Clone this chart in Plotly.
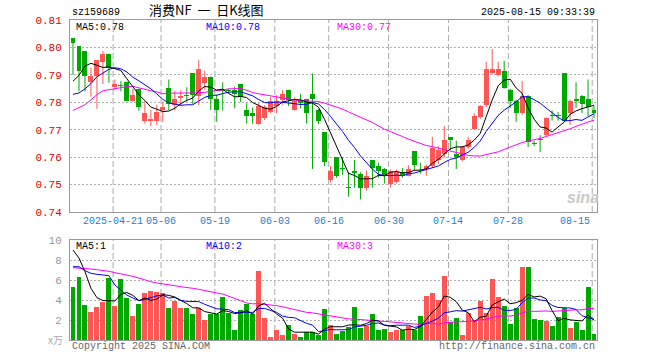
import pandas as pd
import plotly.graph_objects as go

# ---------------- data ----------------
holidays = ["2025-05-01", "2025-05-02", "2025-05-05", "2025-06-02"]
dates = [d.strftime("%Y-%m-%d") for d in pd.bdate_range("2025-04-10", "2025-08-15")
         if d.strftime("%Y-%m-%d") not in holidays]

opens = [0.8034, 0.8004, 0.7987, 0.7873, 0.7895, 0.7947, 0.7977, 0.7856, 0.7862, 0.7873,
         0.7803, 0.7850, 0.7732, 0.7732, 0.7732, 0.7772, 0.7852, 0.7791, 0.7814, 0.7825,
         0.7905, 0.7824, 0.7871, 0.7894, 0.7813, 0.7846, 0.7843, 0.7844, 0.7865, 0.7772,
         0.7760, 0.7721, 0.7742, 0.7766, 0.7787, 0.7807, 0.7844, 0.7772, 0.7803, 0.7813,
         0.7831, 0.7772, 0.7692, 0.7518, 0.7600, 0.7558, 0.7490, 0.7551, 0.7539, 0.7489,
         0.7590, 0.7569, 0.7557, 0.7502, 0.7508, 0.7545, 0.7532, 0.7621, 0.7558, 0.7557,
         0.7567, 0.7590, 0.7613, 0.7672, 0.7613, 0.7590, 0.7637, 0.7701, 0.7748, 0.7791,
         0.7908, 0.7898, 0.7914, 0.7844, 0.7803, 0.7762, 0.7824, 0.7650, 0.7663, 0.7680,
         0.7752, 0.7752, 0.7905, 0.7762, 0.7813, 0.7824, 0.7813, 0.7772]
highs = [0.8034, 0.8004, 0.7987, 0.7926, 0.7953, 0.7987, 0.7977, 0.7883, 0.7877, 0.7876,
         0.7849, 0.7850, 0.7805, 0.7772, 0.7791, 0.7803, 0.7883, 0.7842, 0.7844, 0.7855,
         0.7905, 0.7953, 0.7915, 0.7894, 0.7828, 0.7873, 0.7850, 0.7857, 0.7865, 0.7797,
         0.7781, 0.7797, 0.7790, 0.7820, 0.7826, 0.7844, 0.7846, 0.7818, 0.7831, 0.7813,
         0.7905, 0.7775, 0.7692, 0.7567, 0.7600, 0.7600, 0.7545, 0.7590, 0.7545, 0.7551,
         0.7590, 0.7580, 0.7560, 0.7555, 0.7555, 0.7560, 0.7570, 0.7621, 0.7580, 0.7572,
         0.7674, 0.7640, 0.7713, 0.7672, 0.7660, 0.7640, 0.7674, 0.7760, 0.7790, 0.7947,
         0.7994, 0.7947, 0.7951, 0.7850, 0.7810, 0.7877, 0.7826, 0.7660, 0.7680, 0.7745,
         0.7770, 0.7765, 0.7905, 0.7810, 0.7873, 0.7826, 0.7883, 0.7787]
lows = [0.7900, 0.7840, 0.7840, 0.7821, 0.7776, 0.7867, 0.7871, 0.7844, 0.7840, 0.7803,
        0.7803, 0.7769, 0.7723, 0.7713, 0.7717, 0.7729, 0.7772, 0.7770, 0.7787, 0.7803,
        0.7793, 0.7790, 0.7846, 0.7772, 0.7729, 0.7770, 0.7833, 0.7778, 0.7800, 0.7723,
        0.7722, 0.7718, 0.7735, 0.7760, 0.7760, 0.7791, 0.7787, 0.7770, 0.7778, 0.7723,
        0.7557, 0.7721, 0.7567, 0.7508, 0.7525, 0.7536, 0.7456, 0.7489, 0.7446, 0.7478,
        0.7489, 0.7525, 0.7504, 0.7489, 0.7504, 0.7525, 0.7530, 0.7551, 0.7540, 0.7532,
        0.7560, 0.7575, 0.7600, 0.7625, 0.7557, 0.7585, 0.7630, 0.7700, 0.7740, 0.7782,
        0.7901, 0.7895, 0.7850, 0.7779, 0.7729, 0.7755, 0.7637, 0.7640, 0.7618, 0.7675,
        0.7733, 0.7733, 0.7730, 0.7717, 0.7779, 0.7761, 0.7750, 0.7742]
closes = [0.8016, 0.7914, 0.7897, 0.7895, 0.7953, 0.7975, 0.7926, 0.7865, 0.7860, 0.7803,
          0.7825, 0.7784, 0.7761, 0.7740, 0.7764, 0.7782, 0.7793, 0.7812, 0.7824, 0.7824,
          0.7825, 0.7922, 0.7893, 0.7811, 0.7772, 0.7842, 0.7842, 0.7831, 0.7820, 0.7751,
          0.7751, 0.7787, 0.7782, 0.7803, 0.7803, 0.7831, 0.7809, 0.7803, 0.7799, 0.7762,
          0.7813, 0.7733, 0.7582, 0.7551, 0.7530, 0.7556, 0.7488, 0.7541, 0.7489, 0.7530,
          0.7559, 0.7551, 0.7532, 0.7551, 0.7547, 0.7533, 0.7557, 0.7572, 0.7555, 0.7569,
          0.7634, 0.7627, 0.7662, 0.7662, 0.7600, 0.7636, 0.7662, 0.7750, 0.7785, 0.7922,
          0.7922, 0.7922, 0.7852, 0.7803, 0.7762, 0.7824, 0.7655, 0.7648, 0.7661, 0.7742,
          0.7750, 0.7750, 0.7733, 0.7806, 0.7803, 0.7793, 0.7782, 0.7762]
volumes = [5.27, 6.3, 3.5, 2.8, 3.3, 3.83, 6.2, 3.4, 6.1, 4.2,
           2.4, 3.6, 4.7, 4.9, 4.8, 4.7, 3.2, 3.9, 3.2, 3.2,
           2.6, 3.2, 2.0, 2.6, 2.6, 4.3, 2.73, 1.0, 3.0, 3.63,
           2.6, 6.9, 2.2, 0.3, 1.0, 0.5, 1.5, 0.6, 0.3, 0.77,
           0.77, 0.5, 3.1, 1.5, 0.6, 0.9, 1.33, 3.3, 1.23, 1.43,
           2.6, 1.0, 1.1, 0.83, 1.0, 1.0, 1.4, 1.0, 2.4, 4.4,
           4.73, 4.0, 6.43, 1.8, 2.2, 0.5, 2.73, 2.0, 3.93, 2.73,
           6.1, 4.33, 3.4, 1.6, 3.23, 7.3, 7.3, 2.1, 2.0, 1.93,
           1.4, 2.27, 3.23, 1.23, 1.8, 1.0, 5.3, 0.6]

# moving-average values for the first bars (window not yet full)
ma5_head = [0.7877, 0.7898, 0.7932, 0.7942]
ma10_head = [0.7829, 0.7834, 0.7849, 0.7868, 0.7893, 0.7908, 0.7920, 0.7926, 0.7922]
ma30_head = [0.7770, 0.7780, 0.7791, 0.7809, 0.7828, 0.7842, 0.7846, 0.7851, 0.7855, 0.7857,
             0.7858, 0.7852, 0.7846, 0.7842, 0.7838, 0.7831, 0.7833, 0.7834, 0.7834, 0.7834,
             0.7834, 0.7835, 0.7836, 0.7840, 0.7842, 0.7845, 0.7849, 0.7850, 0.7850]
vma5_head = [9.0, 8.2, 6.83, 5.17]
vma10_head = [7.33, 7.33, 6.93, 6.67, 6.57, 6.5, 6.43, 5.5, 5.0]
vma30_head = [7.23, 7.2, 7.17, 7.1, 7.03, 6.97, 6.87, 6.73, 6.63, 6.53,
              6.37, 6.2, 6.0, 5.83, 5.7, 5.63, 5.53, 5.43, 5.33, 5.27,
              5.17, 5.07, 4.93, 4.8, 4.7, 4.6, 4.4, 4.13, 3.93]

tick_dates = ["2025-04-21", "2025-05-06", "2025-05-19", "2025-06-03", "2025-06-16",
              "2025-06-30", "2025-07-14", "2025-07-28", "2025-08-15"]
tick_text = ["2025-04-21", "05-06", "05-19", "06-03", "06-16", "06-30", "07-14", "07-28", "08-15"]
price_ticks = [0.74, 0.75, 0.76, 0.77, 0.78, 0.79, 0.80, 0.81]
vol_ticks = [2, 4, 6, 8, 10]

# ---------------- derived ----------------
n = len(dates)
idx = list(range(n))
RED, GREEN = "#ff5555", "#00a800"
cols = [RED if c >= o else GREEN for o, c in zip(opens, closes)]


def ma(values, w, head):
    r = pd.Series(values).rolling(w).mean().tolist()
    return head + r[len(head):]


ma5 = ma(closes, 5, ma5_head)
ma10 = ma(closes, 10, ma10_head)
ma30 = ma(closes, 30, ma30_head)
vma5 = ma(volumes, 5, vma5_head)
vma10 = ma(volumes, 10, vma10_head)
vma30 = ma(volumes, 30, vma30_head)

body_base = [min(o, c) for o, c in zip(opens, closes)]
body_h = [max(abs(c - o), 0.00035) for o, c in zip(opens, closes)]

fig = go.Figure()
for colr in (RED, GREEN):
    wx, wy = [], []
    for i in idx:
        if cols[i] == colr:
            wx += [i, i, None]
            wy += [lows[i], highs[i], None]
    fig.add_trace(go.Scatter(x=wx, y=wy, mode="lines", line=dict(color=colr, width=1),
                             xaxis="x", yaxis="y", hoverinfo="skip"))
fig.add_trace(go.Bar(x=idx, y=body_h, base=body_base, width=0.83,
                     marker=dict(color=cols, line=dict(width=0)), xaxis="x", yaxis="y"))
for series, colr in ((ma30, "#ff00ff"), (ma10, "#0000ff"), (ma5, "#000000")):
    fig.add_trace(go.Scatter(x=idx, y=series, mode="lines", line=dict(color=colr, width=1),
                             xaxis="x", yaxis="y"))

fig.add_trace(go.Bar(x=idx, y=volumes, width=0.83,
                     marker=dict(color=cols, line=dict(width=0)), xaxis="x2", yaxis="y2"))
for series, colr in ((vma30, "#ff00ff"), (vma10, "#0000ff"), (vma5, "#000000")):
    fig.add_trace(go.Scatter(x=idx, y=series, mode="lines", line=dict(color=colr, width=1),
                             xaxis="x2", yaxis="y2"))

MONO = "Liberation Mono"
BORDER = "#999999"
GRID = "#b0b0b0"

tick_pos = [dates.index(d) for d in tick_dates]
shapes = []
for p in tick_pos:
    for xr, yr in (("x", "y domain"), ("x2", "y2 domain")):
        shapes.append(dict(type="line", xref=xr, yref=yr, x0=p - 0.3, x1=p - 0.3, y0=0, y1=1,
                           line=dict(color="#aaaaaa", width=1, dash="6px,3px"), layer="below"))


def px(xp):
    return (xp - 70) / 527.0


def py(yp):
    return (340 - yp) / 320.0


ann = []


def text(t, x, y, xanchor="left", color="black", size=10, family=MONO, yanchor="middle", **kw):
    ann.append(dict(text=t, x=x, y=y, xref=kw.pop("xref", "paper"), yref="paper",
                    xanchor=xanchor, yanchor=yanchor, showarrow=False,
                    font=dict(family=family, size=size, color=color, **kw)))


# header row (sits just above the price panel)
text("sz159689", px(70), py(20), yanchor="bottom")
text("消费NF\u00a0\u00a0一\u00a0\u00a0日K线图", px(206), py(20.5), xanchor="center", size=13,
     family="Noto Sans CJK SC", yanchor="bottom")
text("2025-08-15 09:33:39", px(597), py(20), xanchor="right", yanchor="bottom")
# MA legends inside the panels
text(f"MA5:{ma5[-1]:.2f}", px(74), py(20), yanchor="top")
text(f"MA10:{ma10[-1]:.2f}", px(204), py(20), color="#0000ff", yanchor="top")
text(f"MA30:{ma30[-1]:.2f}", px(335), py(20), color="#ff00ff", yanchor="top")
text(f"MA5:{int(vma5[-1])}", px(74), py(246.5))
text(f"MA10:{int(vma10[-1])}", px(204), py(246.5), color="#0000ff")
text(f"MA30:{int(vma30[-1])}", px(335), py(246.5), color="#ff00ff")
for k, (p, t) in enumerate(zip(tick_pos, tick_text)):
    if k == len(tick_pos) - 1:
        text(t, px(592), py(221), xanchor="right", color="#1a7fd0")
    else:
        text(t, p - 0.3, py(221), xanchor="center", color="#1a7fd0", xref="x")
text("Copyright 2025 SINA.COM", px(70), py(346), color="#666666")
text("http://finance.sina.com.cn", px(597), py(346), xanchor="right", color="#666666")
text("x万", px(65), py(339), xanchor="right", color="#aaaaaa", size=10,
     family="Noto Sans CJK SC")
text("sina", px(583), py(197), xanchor="center", color="#c8c8c8", size=16,
     family="Liberation Sans", style="italic", weight="bold")

fig.update_layout(
    width=660, height=360, margin=dict(l=70, r=63, t=20, b=20),
    plot_bgcolor="white", paper_bgcolor="white", showlegend=False,
    barmode="overlay", bargap=0, hovermode=False,
    xaxis=dict(domain=[0, 1], range=[-0.5, n - 0.5], anchor="y", showticklabels=False,
               showgrid=False, zeroline=False, showline=True, mirror=True,
               linecolor=BORDER, linewidth=1, ticks=""),
    yaxis=dict(domain=[0.4, 1], range=[0.74, 0.81], anchor="x",
               tickvals=price_ticks, ticktext=[f"{v:.2f}" for v in price_ticks],
               tickfont=dict(family=MONO, size=11, color="#e00000"),
               showgrid=True, gridcolor=GRID, griddash="2px,2px", gridwidth=1,
               zeroline=False, showline=True, mirror=True, linecolor=BORDER,
               linewidth=1, ticks="", ticklabelstandoff=5),
    xaxis2=dict(domain=[0, 1], range=[-0.5, n - 0.5], anchor="y2", showticklabels=False,
                showgrid=False, zeroline=False, showline=True, mirror=True,
                linecolor=BORDER, linewidth=1, ticks=""),
    yaxis2=dict(domain=[0, 0.3125], range=[0, 10], anchor="x2",
                tickvals=vol_ticks, ticktext=[str(v) for v in vol_ticks],
                tickfont=dict(family=MONO, size=11, color="#999999"),
                showgrid=True, gridcolor=GRID, griddash="2px,2px", gridwidth=1,
                zeroline=False, showline=True, mirror=True, linecolor=BORDER,
                linewidth=1, ticks="", ticklabelstandoff=5),
    shapes=shapes, annotations=ann,
)

# remove the page's default 8px body margin so the figure sits at the window's corner
fig.write_html("out.html", config={"displayModeBar": False, "staticPlot": True},
               post_script="document.body.style.margin='0';document.body.style.overflow='hidden';")
